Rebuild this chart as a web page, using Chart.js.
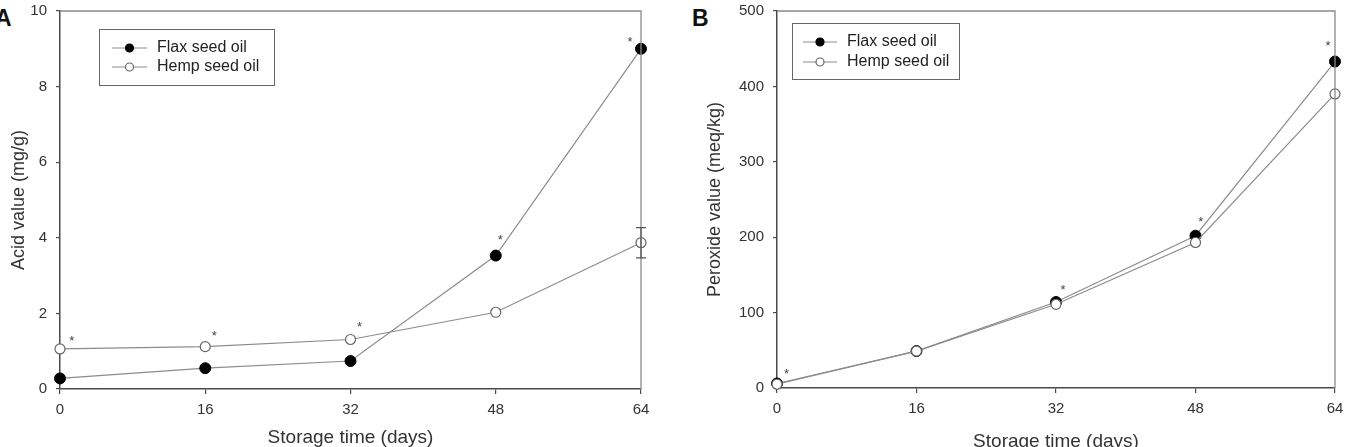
<!DOCTYPE html>
<html>
<head>
<meta charset="utf-8">
<script src="https://cdn.jsdelivr.net/npm/chart.js@4.4.1/dist/chart.umd.min.js"></script>
<style>
    html, body { margin: 0; padding: 0; background: #fff; overflow: hidden; }
    .panel { position: absolute; top: 0; }
    .letter { position: absolute; font-family: "Liberation Sans", Arial, sans-serif; font-weight: bold; font-size: 23px; color: #111; }
</style>
</head>
<body>
<div class="letter" style="left:-5px; top:5px;">A</div>
<div class="letter" style="left:692px; top:5px;">B</div>
<canvas id="chartA" class="panel" style="left:0px;" width="690" height="447"></canvas>
<canvas id="chartB" class="panel" style="left:690px;" width="667" height="447"></canvas>

<script>
// Storage days (x axis)
const days = [0, 16, 32, 48, 64];
const xTicks = [0, 16, 32, 48, 64];

// Panel A - acid value (mg/g)
const flaxAcid = [0.28, 0.55, 0.74, 3.53, 9.0];
const hempAcid = [1.06, 1.12, 1.31, 2.03, 3.87];
const hempAcidErr = [0, 0, 0, 0, 0.4];
const acidStarX = [1.3, 17.0, 33.0, 48.5, 62.8];
const acidStarY = [1.34, 1.47, 1.70, 4.0, 9.25];

// Panel B - peroxide value (meq/kg)
const flaxPeroxide = [6, 49, 114, 202, 433];
const hempPeroxide = [5, 49, 111, 193, 390];
const peroxideStarX = [1.1, 32.8, 48.6, 63.2];
const peroxideStarY = [22, 134, 223, 457];

const FONT = '"Liberation Sans", Arial, sans-serif';
const LINE_GREY = '#8c8c8c';
const AXIS_GREY = '#4a4a4a';

function toPoints(xs, ys) {
    return xs.map((x, i) => ({ x: x, y: ys[i] }));
}

// Frame, legend, asterisks and error bars
const extrasPlugin = {
    id: 'extras',
    afterDatasetsDraw(chart, args, opts) {
        const ctx = chart.ctx;
        const area = chart.chartArea;
        const xs = chart.scales.x;
        const ys = chart.scales.y;
        ctx.save();

        // top and right frame
        ctx.strokeStyle = '#8a8a8a';
        ctx.lineWidth = 1.3;
        ctx.beginPath();
        ctx.moveTo(area.left, area.top);
        ctx.lineTo(area.right, area.top);
        ctx.lineTo(area.right, area.bottom);
        ctx.stroke();

        // error bars
        if (opts.errors) {
            const ds = chart.data.datasets[opts.errors.dataset];
            ctx.strokeStyle = '#555';
            ctx.lineWidth = 1.2;
            ds.data.forEach((p, i) => {
                const e = opts.errors.values[i];
                if (!e) return;
                const px = xs.getPixelForValue(p.x);
                const top = ys.getPixelForValue(p.y + e);
                const bot = ys.getPixelForValue(p.y - e);
                ctx.beginPath();
                ctx.moveTo(px, top); ctx.lineTo(px, bot);
                ctx.moveTo(px - 5, top); ctx.lineTo(px + 5, top);
                ctx.moveTo(px - 5, bot); ctx.lineTo(px + 5, bot);
                ctx.stroke();
            });
        }

        // significance asterisks
        ctx.fillStyle = '#444';
        ctx.font = '13px ' + FONT;
        ctx.textAlign = 'center';
        ctx.textBaseline = 'middle';
        opts.starX.forEach((x, i) => {
            ctx.fillText('*', xs.getPixelForValue(x), ys.getPixelForValue(opts.starY[i]) + 3);
        });

        // legend box
        const lg = opts.legend;
        ctx.fillStyle = '#fff';
        ctx.fillRect(lg.x, lg.y, lg.w, lg.h);
        ctx.strokeStyle = '#666';
        ctx.lineWidth = 1;
        ctx.strokeRect(lg.x + 0.5, lg.y + 0.5, lg.w, lg.h);
        chart.data.datasets.forEach((ds, i) => {
            const cy = lg.rowY[i];
            ctx.strokeStyle = ds.borderColor;
            ctx.lineWidth = 1.2;
            ctx.beginPath();
            ctx.moveTo(lg.lineX0, cy); ctx.lineTo(lg.lineX1, cy);
            ctx.stroke();
            ctx.beginPath();
            ctx.arc((lg.lineX0 + lg.lineX1) / 2, cy, 4, 0, Math.PI * 2);
            ctx.fillStyle = ds.pointBackgroundColor;
            ctx.fill();
            ctx.strokeStyle = ds.pointBorderColor;
            ctx.stroke();
            ctx.fillStyle = '#222';
            ctx.font = '16px ' + FONT;
            ctx.textAlign = 'left';
            ctx.fillText(ds.label, lg.textX, cy);
        });
        ctx.restore();
    }
};

function makeChart(id, cfg) {
    const ctx = document.getElementById(id).getContext('2d');
    return new Chart(ctx, {
        type: 'line',
        data: {
            datasets: [{
                label: 'Flax seed oil',
                data: toPoints(days, cfg.flax),
                borderColor: LINE_GREY,
                borderWidth: 1.2,
                pointRadius: 5.5,
                pointBackgroundColor: '#000',
                pointBorderColor: '#000',
                pointBorderWidth: 1,
                clip: false,
                order: 2
            }, {
                label: 'Hemp seed oil',
                data: toPoints(days, cfg.hemp),
                borderColor: LINE_GREY,
                borderWidth: 1.2,
                pointRadius: 5,
                pointBackgroundColor: '#fff',
                pointBorderColor: '#666',
                pointBorderWidth: 1.2,
                clip: false,
                order: 1
            }]
        },
        options: {
            responsive: false,
            animation: false,
            devicePixelRatio: 1,
            layout: { padding: cfg.padding },
            plugins: {
                legend: { display: false },
                tooltip: { enabled: false },
                extras: cfg.extras
            },
            scales: {
                x: {
                    type: 'linear',
                    min: 0,
                    max: 64,
                    afterBuildTicks: (axis) => { axis.ticks = xTicks.map(v => ({ value: v })); },
                    afterFit: (axis) => {
                        axis.height = cfg.xHeight;
                        axis.paddingLeft = 0;
                        axis.paddingRight = 0;
                    },
                    grid: { drawOnChartArea: false, tickLength: 5, color: AXIS_GREY, lineWidth: 1.2 },
                    border: { color: AXIS_GREY, width: 1.5 },
                    ticks: { color: '#333', font: { family: FONT, size: 15 }, padding: 7, maxRotation: 0 },
                    title: {
                        display: true,
                        text: 'Storage time (days)',
                        color: '#333',
                        font: { family: FONT, size: 19, lineHeight: cfg.xTitleLH },
                        padding: 0
                    }
                },
                y: {
                    min: 0,
                    max: cfg.yMax,
                    afterFit: (axis) => {
                        axis.width = cfg.yWidth;
                        axis.paddingTop = 0;
                        axis.paddingBottom = 0;
                    },
                    grid: { drawOnChartArea: false, tickLength: 4, color: AXIS_GREY, lineWidth: 1.2 },
                    border: { color: AXIS_GREY, width: 1.5 },
                    ticks: { stepSize: cfg.yStep, color: '#333', font: { family: FONT, size: 15 }, padding: 9 },
                    title: {
                        display: true,
                        text: cfg.yTitle,
                        color: '#333',
                        font: { family: FONT, size: 18, lineHeight: 1.2 },
                        padding: { top: cfg.yTitlePad, bottom: 0 }
                    }
                }
            }
        },
        plugins: [extrasPlugin]
    });
}

// Initialize page
document.addEventListener('DOMContentLoaded', () => {
    makeChart('chartA', {
        flax: flaxAcid,
        hemp: hempAcid,
        yMax: 10,
        yStep: 2,
        yTitle: 'Acid value (mg/g)',
        yTitlePad: 8,
        yWidth: 60,
        xHeight: 58,
        xTitleLH: 1,
        padding: { left: 0, right: 49, top: 11, bottom: 0 },
        extras: {
            starX: acidStarX,
            starY: acidStarY,
            errors: { dataset: 1, values: hempAcidErr },
            legend: { x: 99, y: 29, w: 175, h: 56, lineX0: 112, lineX1: 147, textX: 157, rowY: [48, 67] }
        }
    });

    makeChart('chartB', {
        flax: flaxPeroxide,
        hemp: hempPeroxide,
        yMax: 500,
        yStep: 100,
        yTitle: 'Peroxide value (meq/kg)',
        yTitlePad: 14,
        yWidth: 87,
        xHeight: 59,
        xTitleLH: 0.6,
        padding: { left: 0, right: 22, top: 11, bottom: 0 },
        extras: {
            starX: peroxideStarX,
            starY: peroxideStarY,
            legend: { x: 102, y: 23, w: 167, h: 56, lineX0: 113, lineX1: 147, textX: 157, rowY: [42, 62] }
        }
    });
});
</script>
</body>
</html>
